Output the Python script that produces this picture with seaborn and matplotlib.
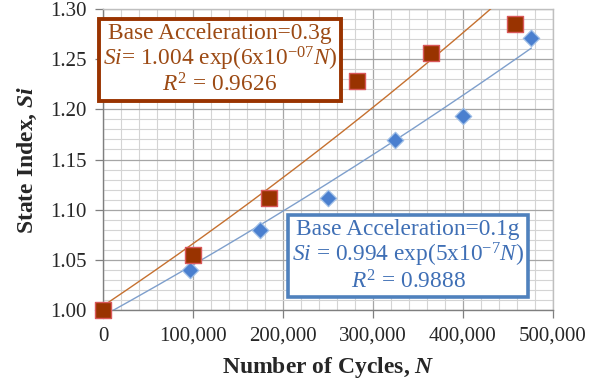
import numpy as np
import pandas as pd
import matplotlib
matplotlib.use("Agg")
import matplotlib.pyplot as plt
from matplotlib.ticker import MultipleLocator, FuncFormatter
import seaborn as sns

# Measured state index versus number of cycles
cycles_03g = [0, 100000, 185000, 282000, 365000, 458000]
si_03g = [1.000, 1.055, 1.112, 1.228, 1.256, 1.285]

cycles_01g = [0, 97000, 174000, 250000, 324000, 400000, 476000]
si_01g = [1.000, 1.040, 1.080, 1.112, 1.169, 1.193, 1.271]

# Exponential fits  Si = a * exp(b * N)
fit_03g = (1.004, 6e-7)
fit_01g = (0.994, 5e-7)

sns.set_style("white")
plt.rcParams["font.family"] = ["Liberation Serif", "DejaVu Serif"]
plt.rcParams["mathtext.fontset"] = "custom"
plt.rcParams["mathtext.rm"] = "Liberation Serif"
plt.rcParams["mathtext.it"] = "Liberation Serif:italic"
plt.rcParams["mathtext.bf"] = "Liberation Serif:bold"
plt.rcParams["mathtext.bfit"] = "Liberation Serif:bold:italic"

fig = plt.figure(figsize=(5.97, 3.82), dpi=100)
ax = fig.add_axes([0.1725, 0.1885, 0.9263 - 0.1725, 0.9764 - 0.1885])

brown = "#993300"
brown_line = "#C5702F"
brown_text = "#9C4A14"
blue = "#4F81BD"
blue_line = "#7E9FCC"
blue_text = "#3F6FB5"

# Trend lines
n_03 = np.linspace(0, max(cycles_03g), 200)
n_01 = np.linspace(0, max(cycles_01g), 200)
trend = pd.DataFrame({
    "N": np.concatenate([n_03, n_01]),
    "Si": np.concatenate([fit_03g[0] * np.exp(fit_03g[1] * n_03),
                          fit_01g[0] * np.exp(fit_01g[1] * n_01)]),
    "case": ["0.3g"] * len(n_03) + ["0.1g"] * len(n_01),
})
sns.lineplot(data=trend, x="N", y="Si", hue="case",
             palette={"0.3g": brown_line, "0.1g": blue_line},
             linewidth=1.0, legend=False, ax=ax, zorder=3)

# Measured points
pts01 = pd.DataFrame({"N": cycles_01g, "Si": si_01g})
pts03 = pd.DataFrame({"N": cycles_03g, "Si": si_03g})
sns.scatterplot(data=pts01, x="N", y="Si", marker="D", s=70,
                color="#4A7FCF", edgecolor="#9DBDE6", linewidth=0.9,
                ax=ax, zorder=4, clip_on=False, legend=False)
sns.scatterplot(data=pts03, x="N", y="Si", marker="s", s=120,
                color=brown, edgecolor="#D9585A", linewidth=1.0,
                ax=ax, zorder=5, clip_on=False, legend=False)

ax.set_xlim(0, 500000)
ax.set_ylim(1.00, 1.30)
ax.xaxis.set_major_locator(MultipleLocator(100000))
ax.xaxis.set_minor_locator(MultipleLocator(20000))
ax.yaxis.set_major_locator(MultipleLocator(0.05))
ax.yaxis.set_minor_locator(MultipleLocator(0.01))
ax.xaxis.set_major_formatter(FuncFormatter(lambda v, p: f"{int(round(v)):,}"))
ax.yaxis.set_major_formatter(FuncFormatter(lambda v, p: f"{v:.2f}"))

ax.grid(which="major", color="#A6A6A6", linewidth=0.9, zorder=0)
ax.grid(which="minor", color="#D4D4D4", linewidth=0.8, zorder=0)
ax.set_axisbelow(True)
for side in ["top", "right"]:
    ax.spines[side].set_color("#BFBFBF")
    ax.spines[side].set_linewidth(1.0)
for side in ["left", "bottom"]:
    ax.spines[side].set_color("#7F7F7F")
    ax.spines[side].set_linewidth(1.0)

ax.tick_params(which="major", direction="out", length=6, width=0.9,
               color="#7F7F7F", labelsize=15, pad=6, bottom=True, left=True)
ax.tick_params(which="minor", direction="out", length=0)

ax.set_xlabel(r"Number of Cycles, $\mathbfit{N}$", fontsize=17,
              fontweight="bold", labelpad=7)
ax.set_ylabel(r"State Index, $\mathbfit{Si}$", fontsize=17,
              fontweight="bold", labelpad=8)

# Fit annotations
ax.text(130000, 1.2495,
        "Base Acceleration=0.3g\n"
        r"$\mathit{Si}$= 1.004 exp(6x10$^{-07}$$\mathit{N}$)" "\n"
        r"$\mathit{R}^{2}$ = 0.9626",
        ha="center", va="center", multialignment="center",
        fontsize=16.8, color=brown_text, linespacing=1.05, zorder=6,
        bbox=dict(boxstyle="square,pad=0.17", fc="white",
                  ec=brown, lw=2.8))
ax.text(339000, 1.0535,
        "Base Acceleration=0.1g\n"
        r"$\mathit{Si}$ = 0.994 exp(5x10$^{-7}$$\mathit{N}$)" "\n"
        r"$\mathit{R}^{2}$ = 0.9888",
        ha="center", va="center", multialignment="center",
        fontsize=16.8, color=blue_text, linespacing=1.05, zorder=6,
        bbox=dict(boxstyle="square,pad=0.17", fc="white",
                  ec=blue, lw=2.6))

fig.savefig("out.png", dpi=100)
